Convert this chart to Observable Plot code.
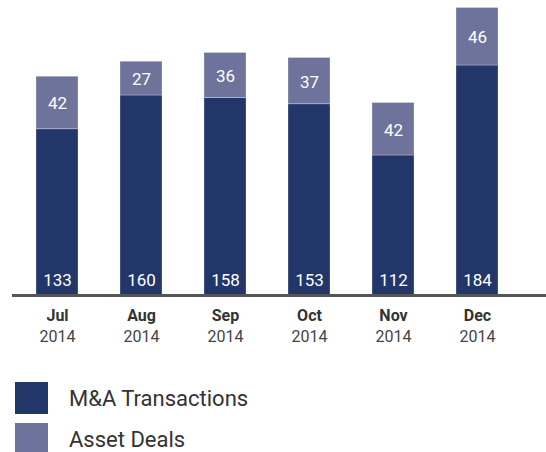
<!DOCTYPE html>
<html>
<head>
<meta charset="utf-8">
<script src="https://cdn.jsdelivr.net/npm/d3@7"></script>
<script src="https://cdn.jsdelivr.net/npm/@observablehq/plot@0.6"></script>
<style>
  html, body { margin: 0; padding: 0; background: #fff; }
  body { width: 546px; height: 452px; overflow: hidden; font-family: Roboto, "Open Sans", sans-serif; }
  .legend { margin-top: 32px; }
  .item { display: flex; align-items: center; height: 32px; margin-bottom: 9px; }
  .sw { width: 33px; height: 32px; margin-left: 15px; margin-right: 21px; }
  .lab { font-size: 22px; color: #333; }
</style>
</head>
<body>
<div id="chart"></div>
<script>
const months = ["Jul", "Aug", "Sep", "Oct", "Nov", "Dec"];
const years = ["2014", "2014", "2014", "2014", "2014", "2014"];
const maTransactions = [133, 160, 158, 153, 112, 184];
const assetDeals = [42, 27, 36, 37, 42, 46];
const seriesNames = ["M&A Transactions", "Asset Deals"];
const seriesColors = ["#233669", "#6e739c"];

const rows = months.map((m, i) => ({month: m, year: years[i], ma: maTransactions[i], ad: assetDeals[i]}));
const long = [];
rows.forEach(r => {
  long.push({month: r.month, series: seriesNames[0], value: r.ma});
  long.push({month: r.month, series: seriesNames[1], value: r.ad});
});

const chart = Plot.plot({
  width: 546,
  height: 350,
  marginLeft: 12,
  marginRight: 0,
  marginTop: 0,
  marginBottom: 55,
  style: {fontFamily: "Roboto, 'Open Sans', sans-serif", background: "#fff"},
  x: {domain: months, range: [12.8, 521], paddingInner: 0.5, paddingOuter: 0.25, axis: null},
  y: {domain: [0, 230], range: [295, 7.5], axis: null},
  color: {domain: seriesNames, range: seriesColors},
  marks: [
    Plot.barY(long, {x: "month", y: "value", fill: "series", stroke: "#ffffff", strokeOpacity: 0.35, strokeWidth: 0.8}),
    Plot.text(rows, {x: "month", y: 0, dy: -15, text: d => String(d.ma), fill: "#fff", fontSize: 17}),
    Plot.text(rows, {x: "month", y: d => d.ma + d.ad / 2, dy: 1, text: d => String(d.ad), fill: "#fff", fontSize: 17}),
    Plot.ruleY([0], {stroke: "#555", strokeWidth: 3}),
    Plot.text(rows, {x: "month", y: 0, dy: 20, text: "month", fill: "#333", fontSize: 16, fontWeight: "bold"}),
    Plot.text(rows, {x: "month", y: 0, dy: 41, text: "year", fill: "#444", fontSize: 16})
  ]
});
document.getElementById("chart").appendChild(chart);

const legend = document.createElement("div");
legend.className = "legend";
seriesNames.forEach((s, i) => {
  const item = document.createElement("div");
  item.className = "item";
  const sw = document.createElement("div");
  sw.className = "sw";
  sw.style.background = seriesColors[i];
  const lab = document.createElement("span");
  lab.className = "lab";
  lab.textContent = s;
  item.appendChild(sw);
  item.appendChild(lab);
  legend.appendChild(item);
});
document.body.appendChild(legend);
</script>
</body>
</html>
